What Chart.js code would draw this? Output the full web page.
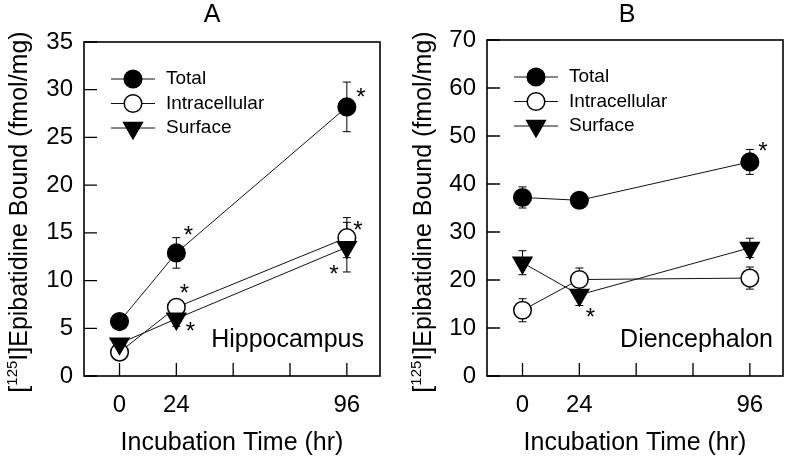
<!DOCTYPE html>
<html>
<head>
<meta charset="utf-8">
<script src="https://cdn.jsdelivr.net/npm/chart.js@4/dist/chart.umd.min.js"></script>
<style>
body { margin: 0; background: #fff; overflow: hidden; }
.panel { position: absolute; top: 0; width: 394px; height: 460px; }
</style>
</head>
<body>
<div class="panel" style="left:0"><canvas id="chartA"></canvas></div>
<div class="panel" style="left:394px"><canvas id="chartB"></canvas></div>
<script>
// data
var hours = [0, 24, 96];
var xTickValues = [0, 24, 48, 72, 96];
var xTickLabels = ['0', '24', '', '', '96'];
var seriesNames = ['Total', 'Intracellular', 'Surface'];

var hippoTotal = [5.7, 12.9, 28.2];
var hippoTotalErr = [0.4, 1.6, 2.6];
var hippoIntra = [2.5, 7.2, 14.5];
var hippoIntraErr = [0.4, 0.5, 2.1];
var hippoSurface = [3.4, 6.0, 13.5];
var hippoSurfaceErr = [0.4, 0.8, 2.6];
var hippoStars = [[0, 1, 1], [0, 1, 1], [0, 1, 1]];

var dienTotal = [37.2, 36.6, 44.6];
var dienTotalErr = [2.2, 0.5, 2.6];
var dienIntra = [13.7, 20.1, 20.4];
var dienIntraErr = [2.4, 2.4, 2.3];
var dienSurface = [23.6, 16.9, 26.7];
var dienSurfaceErr = [2.5, 2.2, 2.0];
var dienStars = [[0, 0, 1], [0, 0, 0], [0, 1, 0]];

var FONT = '"Liberation Sans", Arial, sans-serif';

function toPoints(vals) {
	return vals.map(function(v, i) { return {x: hours[i], y: v}; });
}

function makeDatasets(total, intra, surface) {
	return [
		{label: seriesNames[0], data: toPoints(total), order: 2, pointStyle: 'circle', pointRadius: 8.8,
			pointBackgroundColor: '#000'},
		{label: seriesNames[1], data: toPoints(intra), order: 1, pointStyle: 'circle', pointRadius: 8.8,
			pointBackgroundColor: '#fff'},
		{label: seriesNames[2], data: toPoints(surface), order: 0, pointStyle: 'triangle', pointRadius: 10.8,
			pointRotation: 180, pointBackgroundColor: '#000'}
	].map(function(d) {
		d.borderColor = '#111';
		d.borderWidth = 1;
		d.pointBorderColor = '#000';
		d.pointBorderWidth = 1.5;
		d.pointHoverRadius = d.pointRadius;
		d.fill = false;
		d.tension = 0;
		return d;
	});
}

function starAt(ctx, x, y) {
	ctx.font = '24px ' + FONT;
	var m = ctx.measureText('*');
	var off = (m.actualBoundingBoxAscent - m.actualBoundingBoxDescent) / 2;
	ctx.textAlign = 'center';
	ctx.textBaseline = 'alphabetic';
	ctx.fillText('*', x, y + off);
}

var panelPlugin = {
	id: 'panel',
	beforeDatasetsDraw: function(chart, args, opts) {
		var ctx = chart.ctx, xs = chart.scales.x, ys = chart.scales.y;
		ctx.save();
		ctx.strokeStyle = '#000';
		ctx.lineWidth = 1;
		opts.errors.forEach(function(errs, s) {
			var vals = chart.data.datasets[s].data;
			errs.forEach(function(e, i) {
				var px = xs.getPixelForValue(vals[i].x);
				var top = ys.getPixelForValue(vals[i].y + e);
				var bot = ys.getPixelForValue(vals[i].y - e);
				ctx.beginPath();
				ctx.moveTo(px, top); ctx.lineTo(px, bot);
				ctx.moveTo(px - 4, top); ctx.lineTo(px + 4, top);
				ctx.moveTo(px - 4, bot); ctx.lineTo(px + 4, bot);
				ctx.stroke();
			});
		});
		ctx.restore();
	},
	afterDraw: function(chart, args, opts) {
		var ctx = chart.ctx, a = chart.chartArea, xs = chart.scales.x, ys = chart.scales.y;
		ctx.save();
		ctx.fillStyle = '#000';
		ctx.strokeStyle = '#000';

		// frame and inward ticks
		ctx.lineWidth = 1.6;
		ctx.strokeRect(a.left, a.top, a.right - a.left, a.bottom - a.top);
		ctx.lineWidth = 1.3;
		ctx.beginPath();
		xTickValues.forEach(function(v) {
			var px = xs.getPixelForValue(v);
			ctx.moveTo(px, a.bottom); ctx.lineTo(px, a.bottom - 13);
		});
		ys.ticks.forEach(function(t) {
			var py = ys.getPixelForValue(t.value);
			ctx.moveTo(a.left, py); ctx.lineTo(a.left + 13, py);
		});
		ctx.stroke();

		// stars
		chart.data.datasets.forEach(function(ds, s) {
			opts.stars[s].forEach(function(on, i) {
				if (!on) return;
				var off = opts.starOffsets[s][i];
				starAt(ctx, xs.getPixelForValue(ds.data[i].x) + off[0], ys.getPixelForValue(ds.data[i].y) + off[1]);
			});
		});

		// legend inside the plot
		ctx.lineWidth = 1;
		chart.data.datasets.forEach(function(ds, s) {
			var mx = a.left + 49, my = a.top + 37 + s * 24.5;
			ctx.strokeStyle = '#111';
			ctx.beginPath();
			ctx.moveTo(mx - 22, my); ctx.lineTo(mx + 22, my);
			ctx.stroke();
			ctx.fillStyle = ds.pointBackgroundColor;
			ctx.strokeStyle = '#000';
			ctx.lineWidth = 1.5;
			Chart.helpers.drawPoint(ctx, {pointStyle: ds.pointStyle, radius: ds.pointRadius,
				rotation: ds.pointRotation || 0, borderWidth: 1.5}, mx, my);
			ctx.lineWidth = 1;
			ctx.fillStyle = '#000';
			ctx.font = '19px ' + FONT;
			ctx.textAlign = 'left';
			ctx.textBaseline = 'middle';
			ctx.fillText(ds.label, mx + 33, my);
		});

		// region label
		ctx.font = '25px ' + FONT;
		ctx.textAlign = 'right';
		ctx.textBaseline = 'alphabetic';
		ctx.fillText(opts.region, a.right - opts.regionInset, a.bottom - 29);

		// panel letter
		ctx.font = '25px ' + FONT;
		ctx.textAlign = 'center';
		ctx.textBaseline = 'middle';
		ctx.fillText(opts.letter, opts.letterX, 15);

		// x axis title
		ctx.font = '25px ' + FONT;
		ctx.fillText('Incubation Time (hr)', (a.left + a.right) / 2, 443);

		// y axis title with superscript
		ctx.translate(opts.yTitleX, 212);
		ctx.rotate(-Math.PI / 2);
		var big = '25px ' + FONT, small = '15px ' + FONT;
		var p1 = '[', sup = '125', p2 = 'I]Epibatidine Bound (fmol/mg)';
		ctx.font = big;
		var w1 = ctx.measureText(p1).width, w3 = ctx.measureText(p2).width;
		ctx.font = small;
		var w2 = ctx.measureText(sup).width;
		var x0 = -(w1 + w2 + w3) / 2;
		ctx.textAlign = 'left';
		ctx.textBaseline = 'middle';
		ctx.font = big;
		ctx.fillText(p1, x0, 0);
		ctx.font = small;
		ctx.fillText(sup, x0 + w1, -7);
		ctx.font = big;
		ctx.fillText(p2, x0 + w1 + w2, 0);
		ctx.restore();
	}
};

function buildChart(id, datasets, yMax, yStep, pad, yWidth, panelOpts) {
	return new Chart(document.getElementById(id), {
		type: 'line',
		data: {datasets: datasets},
		plugins: [panelPlugin],
		options: {
			responsive: true,
			maintainAspectRatio: false,
			animation: false,
			layout: {padding: pad, autoPadding: false},
			plugins: {legend: {display: false}, tooltip: {enabled: false}, panel: panelOpts},
			scales: {
				x: {
					type: 'linear', min: -15, max: 110,
					afterBuildTicks: function(s) { s.ticks = xTickValues.map(function(v) { return {value: v}; }); },
					afterFit: function(s) { s.height = 84; s.paddingLeft = 0; s.paddingRight = 0; },
					grid: {display: false, drawTicks: false},
					border: {display: false},
					ticks: {
						padding: 15, color: '#000', font: {size: 24, family: FONT}, maxRotation: 0,
						callback: function(v) { return xTickLabels[xTickValues.indexOf(v)]; }
					}
				},
				y: {
					min: 0, max: yMax,
					afterFit: function(s) { s.width = yWidth; s.paddingTop = 0; s.paddingBottom = 0; },
					grid: {display: false, drawTicks: false},
					border: {display: false},
					ticks: {stepSize: yStep, padding: 11, color: '#000', font: {size: 24, family: FONT}}
				}
			}
		}
	});
}

buildChart('chartA', makeDatasets(hippoTotal, hippoIntra, hippoSurface), 35, 5,
	{top: 42, right: 14, bottom: 0, left: 0}, 84, {
		errors: [hippoTotalErr, hippoIntraErr, hippoSurfaceErr],
		stars: hippoStars,
		starOffsets: [[[0, 0], [12, -22], [14, -14]], [[0, 0], [8, -19], [11, -12]], [[0, 0], [14, 8], [-13, 22]]],
		region: 'Hippocampus', regionInset: 16, letter: 'A', letterX: 212, yTitleX: 20
	});

buildChart('chartB', makeDatasets(dienTotal, dienIntra, dienSurface), 70, 10,
	{top: 40, right: 5, bottom: 0, left: 0}, 93, {
		errors: [dienTotalErr, dienIntraErr, dienSurfaceErr],
		stars: dienStars,
		starOffsets: [[[0, 0], [0, 0], [13, -15]], [[0, 0], [0, 0], [0, 0]], [[0, 0], [11, 18], [0, 0]]],
		region: 'Diencephalon', regionInset: 10, letter: 'B', letterX: 233, yTitleX: 30
	});
</script>
</body>
</html>
